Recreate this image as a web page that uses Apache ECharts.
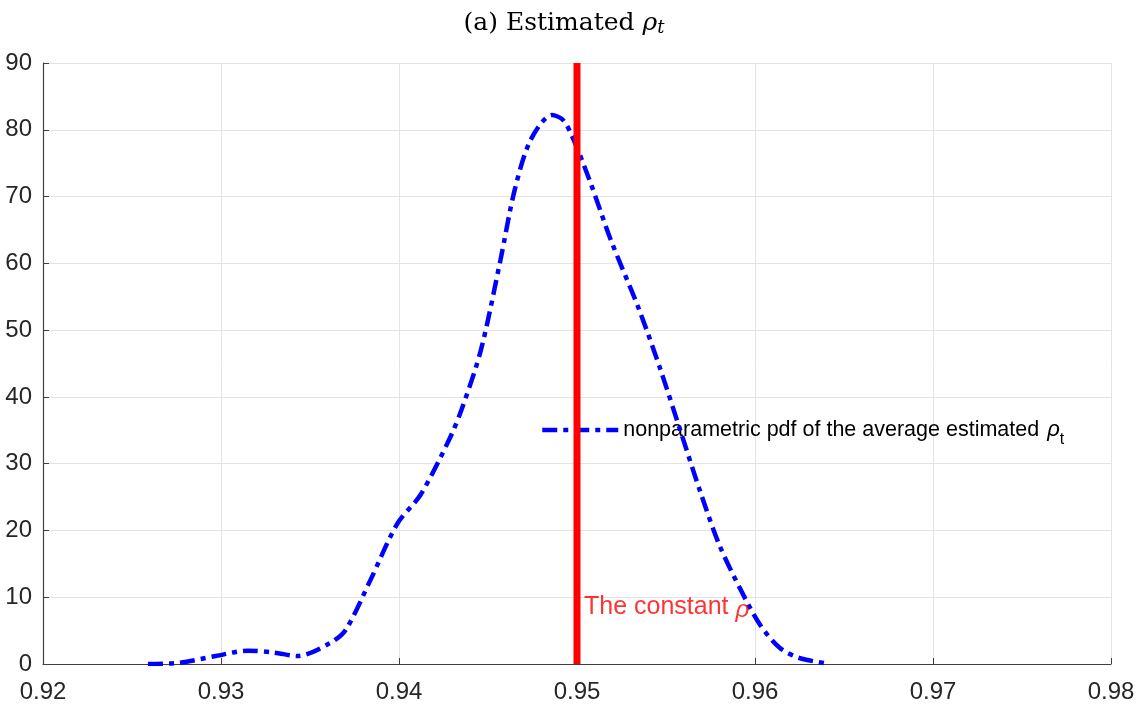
<!DOCTYPE html>
<html>
<head>
<meta charset="utf-8">
<script src="https://cdn.jsdelivr.net/npm/echarts@6/dist/echarts.min.js"></script>
<style>
  html, body { margin: 0; padding: 0; background: #fff; }
  #chart { width: 1138px; height: 709px; }
</style>
</head>
<body>
<div id="chart"></div>
<script>
// pdf curve
const rhoX = [0.9259, 0.9277, 0.9297, 0.9315, 0.9330, 0.9343, 0.9361, 0.9370, 0.9384, 0.9399,
  0.9412, 0.9428, 0.9435, 0.9446, 0.9457, 0.9465, 0.9474, 0.9486, 0.9492, 0.9497,
  0.9507, 0.9519, 0.9535, 0.9547, 0.9558, 0.9569, 0.9580, 0.9592, 0.9603, 0.9614,
  0.9625, 0.9642];
const pdfY = [0, 0.2, 1.2, 2.0, 1.7, 1.2, 3.1, 5.1, 12.6, 21,
  25.3, 33.5, 38, 47, 60.5, 71, 78.5, 82.2, 81.5, 79.2,
  72.5, 63.5, 53, 44, 35, 26, 17.8, 11.1, 5.8, 2.4,
  0.9, 0];
const constRho = 0.95;
const constLabelY = 8.5;

var myChart = echarts.init(document.getElementById('chart'));

const pdfData = rhoX.map((x, i) => [x, pdfY[i]]);
const redData = [[constRho, 0], [constRho, 90]];
const dashDot = [15, 6, 5, 6];

var option = {
    animation: false,
    title: {
        text: '{n|(a) Estimated }{r|ρ}{s|t}',
        left: 559,
        textAlign: 'center',
        top: 4,
        textStyle: {
            fontWeight: 'normal',
            rich: {
                n: { fontFamily: 'DejaVu Serif', fontWeight: 'normal', fontSize: 25, color: '#000' },
                r: { fontFamily: 'DejaVu Serif', fontWeight: 'normal', fontStyle: 'italic', fontSize: 25, color: '#000' },
                s: { fontFamily: 'DejaVu Serif', fontWeight: 'normal', fontStyle: 'italic', fontSize: 18, color: '#000', padding: [10, 0, 0, 0] }
            }
        }
    },
    legend: {
        show: true,
        data: ['pdf'],
        orient: 'horizontal',
        left: '540px',
        top: '419px',
        padding: 0,
        z: 1,
        itemWidth: 76,
        itemHeight: 14,
        itemGap: 6,
        itemStyle: { opacity: 0 },
        lineStyle: { width: 4.5, type: dashDot, color: '#0000ff' },
        formatter: function () {
            return '{a|nonparametric pdf of the average estimated }{r|ρ}{s|t}';
        },
        textStyle: {
            rich: {
                a: { fontFamily: 'Liberation Sans', fontSize: 21.5, color: '#000' },
                r: { fontFamily: 'Liberation Sans', fontStyle: 'italic', fontSize: 22, color: '#000', padding: [0, 0, 0, 2] },
                s: { fontFamily: 'Liberation Sans', fontSize: 16, color: '#000', padding: [20, 0, 0, 0] }
            }
        }
    },
    grid: { left: 43, right: 27, top: 63, bottom: 45 },
    xAxis: {
        type: 'value',
        min: 0.92,
        max: 0.98,
        interval: 0.01,
        axisLine: { show: true, lineStyle: { color: '#404040', width: 1.2 } },
        axisTick: { show: true, inside: true, length: 6, lineStyle: { color: '#404040' } },
        axisLabel: {
            fontFamily: 'Liberation Sans', fontSize: 24, color: '#262626', margin: 16,
            formatter: v => v.toFixed(2)
        },
        splitLine: { show: true, lineStyle: { color: '#e3e3e3', width: 1 } }
    },
    yAxis: {
        type: 'value',
        min: 0,
        max: 90,
        interval: 10,
        axisLine: { show: true, lineStyle: { color: '#404040', width: 1.2 } },
        axisTick: { show: true, inside: true, length: 6, lineStyle: { color: '#404040' } },
        axisLabel: { fontFamily: 'Liberation Sans', fontSize: 24, color: '#262626', margin: 11 },
        splitLine: { show: true, lineStyle: { color: '#e3e3e3', width: 1 } }
    },
    series: [
        {
            name: 'pdf',
            type: 'line',
            data: pdfData,
            smooth: 0.3,
            showSymbol: false,
            symbol: 'none',
            lineStyle: { color: '#0000ff', width: 4.5, type: dashDot },
            itemStyle: { color: '#0000ff' },
            z: 3
        },
        {
            name: 'const',
            type: 'line',
            data: redData,
            symbol: 'none',
            showSymbol: false,
            lineStyle: { color: '#ff0000', width: 7 },
            z: 4
        },
        {
            name: 'constLabel',
            type: 'scatter',
            data: [[constRho, constLabelY]],
            symbolSize: 0,
            silent: true,
            label: {
                show: true,
                position: 'right',
                distance: 7,
                formatter: '{a|The constant }{r|ρ}',
                rich: {
                    a: { fontFamily: 'Liberation Sans', fontSize: 25, color: '#ff0000' },
                    r: { fontFamily: 'Liberation Sans', fontStyle: 'italic', fontSize: 24, color: '#ff0000', padding: [6, 0, 0, 0] }
                }
            },
            z: 5
        }
    ]
};

myChart.setOption(option);
</script>
</body>
</html>
